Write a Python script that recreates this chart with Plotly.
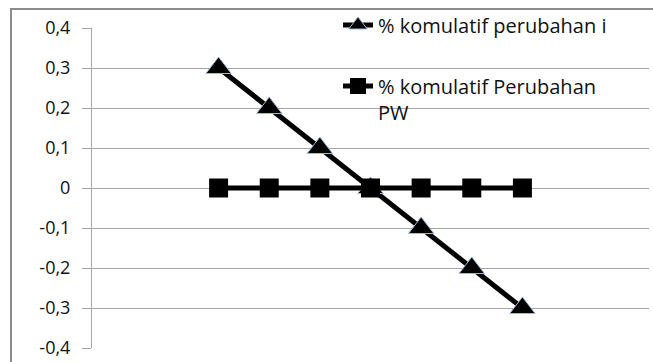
import plotly.graph_objects as go

# Data
points = [1, 2, 3, 4, 5, 6, 7]
series_i_name = "% komulatif perubahan i"
series_i = [0.3, 0.2, 0.1, 0.0, -0.1, -0.2, -0.3]
series_pw_name = "% komulatif Perubahan<br>PW"
series_pw = [0.0, 0.0, 0.0, 0.0, 0.0, 0.0, 0.0]
y_tick_vals = [0.4, 0.3, 0.2, 0.1, 0.0, -0.1, -0.2, -0.3, -0.4]
y_tick_text = ["0,4", "0,3", "0,2", "0,1", "0", "-0,1", "-0,2", "-0,3", "-0,4"]

FONT = "Open Sans"
GRID = "#a6a6a6"

fig = go.Figure()
fig.add_trace(go.Scatter(
    x=points, y=series_i, name=series_i_name, mode="lines+markers",
    line=dict(color="black", width=5),
    marker=dict(symbol="triangle-up", size=22, color="black",
                line=dict(color="#9fb6d6", width=1)),
    legend="legend",
))
fig.add_trace(go.Scatter(
    x=points, y=series_pw, name=series_pw_name, mode="lines+markers",
    line=dict(color="black", width=5),
    marker=dict(symbol="square", size=19, color="black"),
    legend="legend2",
))

W, H = 653, 362
ml, mr, mt, mb = 92, 4, 28, 14
pw = W - ml - mr
ph = H - mt - mb

def px_x(x):
    return (x - ml) / pw

def px_y(y):
    return 1 - (y - mt) / ph

fig.update_layout(
    width=W, height=H,
    margin=dict(l=ml, r=mr, t=mt, b=mb, pad=0),
    paper_bgcolor="white", plot_bgcolor="white",
    font=dict(family=FONT, size=18, color="#111111"),
    xaxis=dict(range=[-1.5, 9.5], showgrid=False, showticklabels=False,
               ticks="", zeroline=False, showline=False),
    yaxis=dict(range=[-0.4, 0.4], tickvals=y_tick_vals, ticktext=y_tick_text,
               showgrid=True, gridcolor=GRID, gridwidth=1,
               zeroline=False, showline=True, linecolor=GRID, linewidth=1,
               ticks="outside", ticklen=9, tickcolor=GRID, tickwidth=1,
               ticklabelstandoff=8,
               tickfont=dict(family=FONT, size=18, color="#111111")),
    legend=dict(x=px_x(338), xanchor="left", y=px_y(25), yanchor="middle",
                bgcolor="rgba(0,0,0,0)", borderwidth=0,
                font=dict(family=FONT, size=20, color="#111111")),
    legend2=dict(x=px_x(338), xanchor="left", y=px_y(99), yanchor="middle",
                 bgcolor="rgba(0,0,0,0)", borderwidth=0, valign="top",
                 font=dict(family=FONT, size=20, color="#111111")),
    showlegend=True,
    shapes=[dict(type="rect", xref="paper", yref="paper",
                 x0=px_x(11), y0=px_y(380), x1=px_x(700), y1=px_y(9),
                 line=dict(color="#8c8c8c", width=2), fillcolor="rgba(0,0,0,0)",
                 layer="above")],
)

fig.write_html(
    "out.html",
    config={"displayModeBar": False},
    post_script="document.body.style.margin='0px';document.body.style.padding='0px';document.body.style.overflow='hidden';",
)
